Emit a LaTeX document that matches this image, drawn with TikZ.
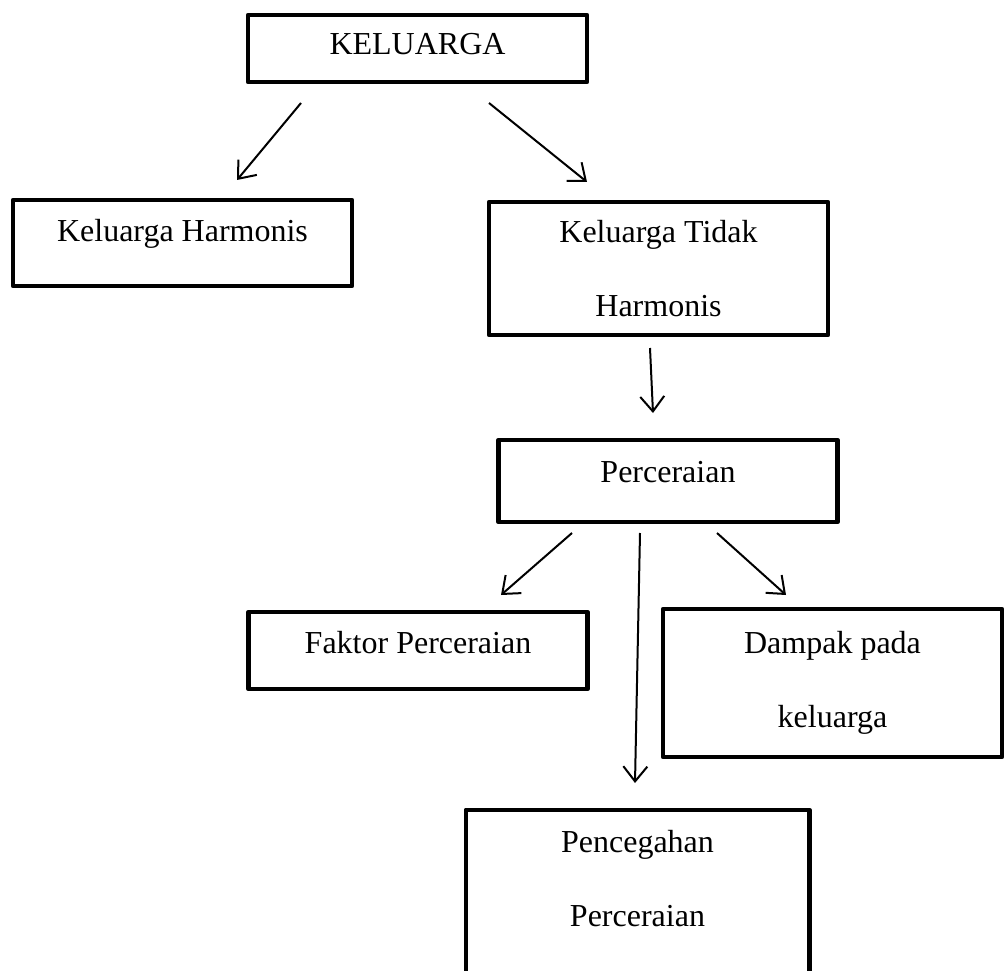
\documentclass[tikz,border=0pt]{standalone}
\usepackage{fontspec}
\setmainfont{Liberation Serif}
\usepackage{tikz}
\usetikzlibrary{arrows}
\usetikzlibrary{arrows.meta}

\tikzset{
  garis/.style={line width=4.5pt, line join=round},
  kotak/.style={garis, draw, minimum width=339pt, inner sep=0pt, align=center, font=\fontsize{32}{38}\selectfont},
  satubaris/.style={text height=22pt, text depth=#1},
  panah/.style={line width=2pt, -{Straight Barb[length=15pt,width=24pt]}}
}

\begin{document}
\begin{tikzpicture}[x=1pt,y=-1pt]
\clip (0,0) rectangle (1005,971);

\node[kotak, satubaris=9pt, minimum height=67pt] (keluarga) at (417.5,48.5) {KELUARGA};
\node[kotak, satubaris=26pt, minimum height=86pt] (harmonis) at (182.5,243) {Keluarga Harmonis};
\node[kotak, minimum height=133pt] (tidak) at (658.5,268.5) {Keluarga Tidak\\[36pt]Harmonis};
\node[kotak, satubaris=20pt, minimum height=82pt] (cerai) at (668,481) {Perceraian};
\node[kotak, satubaris=17pt, minimum height=77pt] (faktor) at (418,650.5) {Faktor Perceraian};
\node[kotak, minimum height=148pt] (dampak) at (832.5,683) {Dampak pada\\[36pt]keluarga};
\node[kotak, draw=none, minimum height=134pt] (cegah) at (637.5,879) {Pencegahan\\[36pt]Perceraian};
\draw[garis] ([yshift=-60pt]cegah.south west) -- (cegah.north west) -- (cegah.north east) -- ([yshift=-60pt]cegah.south east);

\coordinate (k1) at (301,103);
\coordinate (h1) at (237,180);
\coordinate (k2) at (489,103);
\coordinate (t1) at (587,182);
\coordinate (t2) at (650,348);
\coordinate (c1) at (653,413);
\coordinate (c2) at (572,533);
\coordinate (f1) at (501,595);
\coordinate (c3) at (640,533);
\coordinate (p1) at (635,783);
\coordinate (c4) at (717,533);
\coordinate (d1) at (786,595);

\draw[panah] (k1) -- (h1);
\draw[panah] (k2) -- (t1);
\draw[panah] (t2) -- (c1);
\draw[panah] (c2) -- (f1);
\draw[panah] (c3) -- (p1);
\draw[panah] (c4) -- (d1);
\end{tikzpicture}
\end{document}
